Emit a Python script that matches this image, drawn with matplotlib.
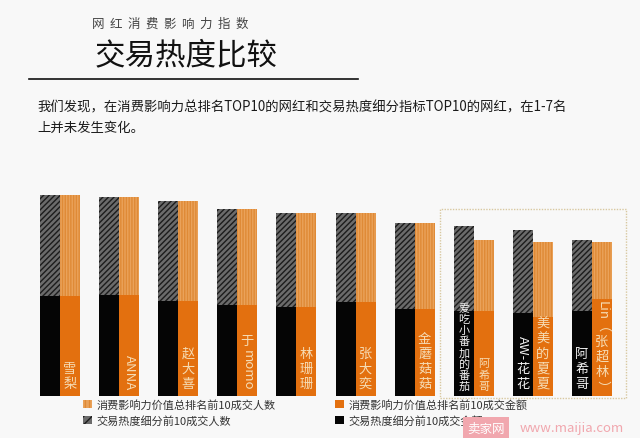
#!/usr/bin/env python3
"""
网红消费影响力指数 - 交易热度比较
"""

import matplotlib
matplotlib.use("Agg")
import matplotlib.pyplot as plt
from matplotlib.patches import Patch, Rectangle
from matplotlib.textpath import TextPath
from matplotlib.font_manager import FontProperties

plt.rcParams['font.family'] = ['Noto Sans CJK SC', 'DejaVu Sans']
plt.rcParams['hatch.linewidth'] = 1.0

# 数据（柱高为相对值，读自原图）
heat_people = [101, 98, 100, 96, 94, 89, 86, 85, 83, 71]     # 交易热度细分前10成交人数
heat_amount = [100, 101, 95, 91, 89, 94, 87, 85, 83, 85]     # 交易热度细分前10成交金额
infl_people = [101, 98, 100, 96, 94, 89, 86, 71, 75, 57]     # 消费影响力价值总排名前10成交人数
infl_amount = [100, 101, 95, 91, 89, 94, 87, 85, 79, 97]     # 消费影响力价值总排名前10成交金额

heat_names = ["", "", "", "", "", "", "", "爱吃小番加的番茄", "AW-花花", "阿希哥"]
infl_names = ["雪梨", "ANNA", "赵大喜", "于momo", "林珊珊", "张大奕", "金蘑菇菇",
              "阿希哥", "美美的夏夏", "Lin（张超林）"]

legend_labels = ["消费影响力价值总排名前10成交人数", "交易热度细分前10成交人数",
                 "消费影响力价值总排名前10成交金额", "交易热度细分前10成交金额"]

title_small = "网  红  消  费  影  响  力  指  数"
title_big = "交易热度比较"
desc = ("我们发现，在消费影响力总排名TOP10的网红和交易热度细分指标TOP10的网红，在1-7名\n"
        "上并未发生变化。")

BG = '#f8f8f8'
BLACK = '#050505'
DARK_FACE = '#6b6b6b'
DARK_HATCH = '#1c1c1c'
ORANGE = '#e3700f'
LORANGE_FACE = '#eaa25a'
LORANGE_HATCH = '#df8a36'
CREAM = '#f6dcb4'

W = 0.338


def is_upright(ch):
    return ord(ch) >= 0x2E80 and ch not in "（）"


def vertical_label(ax, x, name, color, size, adv):
    """竖排文字：汉字直立，西文旋转90度，底部对齐"""
    if not name:
        return
    fp = FontProperties(family='Noto Sans CJK SC', size=size)
    tokens = []
    run = ""
    for ch in name:
        if is_upright(ch):
            if run:
                tokens.append((run, False))
                run = ""
            tokens.append((ch, True))
        else:
            run += ch
    if run:
        tokens.append((run, False))

    lens = []
    for tok, up in tokens:
        if up:
            lens.append(size * adv)
        elif tok in "（）":
            lens.append(size * 0.9)
        else:
            ext = TextPath((0, 0), tok, size=size, prop=fp).get_extents()
            lens.append(ext.width + size * 0.35)
    total = sum(lens)
    bottom = 3.5
    cursor = bottom + total
    for (tok, up), ln in zip(tokens, lens):
        c = cursor - ln / 2
        ax.annotate(tok, xy=(x, 0), xycoords='data', xytext=(0, c),
                    textcoords='offset points', ha='center', va='center',
                    rotation=0 if up else -90, color=color, fontsize=size,
                    annotation_clip=False)
        cursor -= ln


fig = plt.figure(figsize=(6.4, 4.39), dpi=100)
fig.patch.set_facecolor(BG)
ax = fig.add_axes([30.5 / 640, 42 / 439, 591 / 640, 220 / 439])
ax.set_facecolor(BG)
ax.set_xlim(-0.5, 9.5)
ax.set_ylim(0, 220)
ax.axis('off')

x = list(range(len(infl_names)))
xl = [i - W / 2 for i in x]
xr = [i + W / 2 for i in x]

ax.bar(xl, heat_amount, W, color=BLACK, linewidth=0)
ax.bar(xl, heat_people, W, bottom=heat_amount, facecolor=DARK_FACE,
       edgecolor=DARK_HATCH, hatch='//////', linewidth=0)
ax.bar(xr, infl_amount, W, color=ORANGE, linewidth=0)
ax.bar(xr, infl_people, W, bottom=infl_amount, facecolor=LORANGE_FACE,
       edgecolor=LORANGE_HATCH, hatch='||||||', linewidth=0)

# 名字
for i in x:
    small = i == 7
    size = 8 if small else 9.5
    adv = 1.0 if small else 1.15
    vertical_label(ax, xl[i], heat_names[i], '#f2f2f2', size, adv)
    vertical_label(ax, xr[i], infl_names[i], CREAM, size, adv)

# 8-10名的虚线框
box = Rectangle((6.43, -1.5), 3.15, 188.5, fill=False, edgecolor='#d8c8a0',
                linestyle=(0, (1, 1)), linewidth=1.0, clip_on=False)
ax.add_patch(box)

# 图例
handles = [
    Patch(facecolor=LORANGE_FACE, edgecolor=LORANGE_HATCH, hatch='||||', linewidth=0),
    Patch(facecolor=DARK_FACE, edgecolor=DARK_HATCH, hatch='////', linewidth=0),
    Patch(facecolor=ORANGE, linewidth=0),
    Patch(facecolor=BLACK, linewidth=0),
]
ax.legend(handles, legend_labels, ncol=2, frameon=False, fontsize=8,
          loc='upper left', bbox_to_anchor=(48 / 591, 0.006),
          handlelength=0.8, handleheight=0.8, handletextpad=0.4,
          columnspacing=5.4, labelspacing=0.45, borderaxespad=0,
          labelcolor='#333333')

# 标题与说明
fig.text(92 / 640, 1 - 24 / 439, title_small, fontsize=9, color='#444444',
         va='center', ha='left')
fig.text(95 / 640, 1 - 56 / 439, title_big, fontsize=22, color='#111111',
         va='center', ha='left', fontweight='light')
fig.add_artist(plt.Line2D([29 / 640, 358 / 640], [1 - 80 / 439, 1 - 80 / 439],
                          color='#111111', linewidth=1.2))
fig.text(37 / 640, 1 - 100 / 439, desc, fontsize=9.6, color='#1a1a1a',
         va='top', ha='left', linespacing=1.6)

# 水印
fig.text(486 / 640, 1 - 429 / 439, "卖家网", fontsize=9, color='white',
         ha='center', va='center',
         bbox=dict(boxstyle='square,pad=0.35', facecolor='#f1a7ae', edgecolor='none'))
fig.text(572 / 640, 1 - 429 / 439, "www.maijia.com", fontsize=9.5, color='#f1a7ae',
         ha='center', va='center')

fig.savefig("out.png", dpi=100, facecolor=BG)
